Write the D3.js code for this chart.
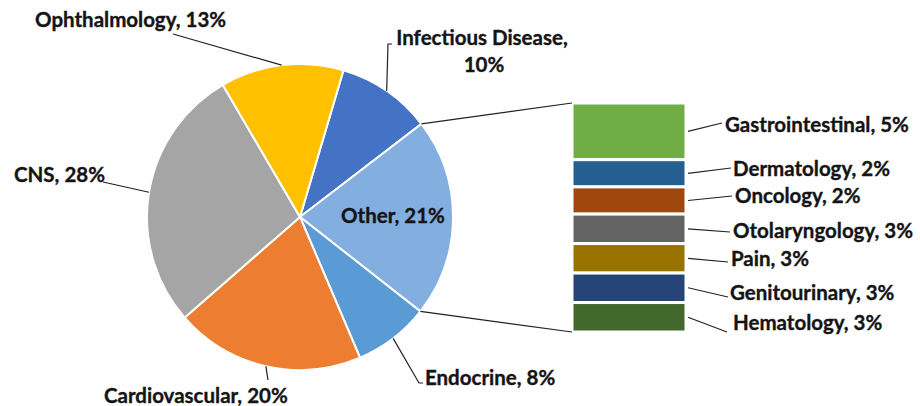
<!DOCTYPE html>
<html>
<head>
<meta charset="utf-8">
<script src="https://cdn.jsdelivr.net/npm/d3@7"></script>
<style>
  body { margin: 0; background: #fff; }
  text { font-family: "Lato", "Open Sans", sans-serif; font-weight: bold; fill: #141414;
         stroke: #141414; stroke-width: 0.35px; font-size: 20.5px; }
</style>
</head>
<body>
<script>
// pie data
const pieNames = ["Infectious Disease", "Other", "Endocrine", "Cardiovascular", "CNS", "Ophthalmology"];
const pieValues = [10, 21, 8, 20, 28, 13];
const pieColors = ["#4472c4", "#82aee0", "#5b9bd5", "#ed7d31", "#a5a5a5", "#ffc000"];

// breakdown of "Other" (bar)
const barNames = ["Gastrointestinal", "Dermatology", "Oncology", "Otolaryngology", "Pain", "Genitourinary", "Hematology"];
const barValues = [5.0, 2.4, 2.4, 2.6, 2.6, 2.6, 2.6];
const barColors = ["#70ad47", "#255e91", "#9e480e", "#636363", "#997300", "#264478", "#43682b"];

const width = 920, height = 406;
const cx = 300, cy = 217, r = 153;
const startDeg = 16.5; // first slice starts a bit past 12 o'clock

const svg = d3.select("body").append("svg")
    .attr("width", width)
    .attr("height", height);

const pieData = pieNames.map((n, i) => ({ name: n, value: pieValues[i] }));
const pie = d3.pie().sort(null).value(d => d.value)
    .startAngle(startDeg * Math.PI / 180)
    .endAngle(startDeg * Math.PI / 180 + 2 * Math.PI);
const arcs = pie(pieData);
const arc = d3.arc().innerRadius(0).outerRadius(r);

const g = svg.append("g").attr("transform", `translate(${cx},${cy})`);
g.selectAll("path")
    .data(arcs)
    .enter()
    .append("path")
    .attr("d", arc)
    .attr("fill", (d, i) => pieColors[i])
    .attr("stroke", "#fff")
    .attr("stroke-width", 2);

// point on the pie edge at a given angle
const edge = (a, rr = r) => [cx + rr * Math.sin(a), cy - rr * Math.cos(a)];

// bar for "Other"
const barX = 572, barW = 114, barTop = 103, barBottom = 332;
const total = d3.sum(barValues);
const cum = barValues.map((v, i) => d3.sum(barValues.slice(0, i)));
const yBar = d3.scaleLinear().domain([0, total]).range([barTop, barBottom]);

svg.selectAll("rect.seg")
    .data(barValues)
    .enter()
    .append("rect")
    .attr("class", "seg")
    .attr("x", barX)
    .attr("y", (d, i) => yBar(cum[i]))
    .attr("width", barW)
    .attr("height", d => yBar(d) - yBar(0))
    .attr("fill", (d, i) => barColors[i])
    .attr("stroke", "#fff")
    .attr("stroke-width", 3);

// connector lines from "Other" slice to the bar
const other = arcs[1];
const line = (pts) => svg.append("path")
    .attr("d", d3.line()(pts))
    .attr("fill", "none")
    .attr("stroke", "#222")
    .attr("stroke-width", 1.2);
line([edge(other.startAngle), [barX, barTop]]);
line([edge(other.endAngle), [barX, barBottom]]);

// pie labels: text position + leader end (layout only)
const pct = v => Math.round(v) + "%";
const mid = d => (d.startAngle + d.endAngle) / 2;

// Infectious Disease (two lines)
line([edge(mid(arcs[0])), [388, 44], [392, 44]]);
svg.append("text").attr("x", 482).attr("y", 45).attr("text-anchor", "middle")
    .text(pieNames[0] + ",");
svg.append("text").attr("x", 484).attr("y", 72).attr("text-anchor", "middle")
    .text(pct(pieValues[0]));

// Other (inside)
svg.append("text").attr("x", 393).attr("y", 223).attr("text-anchor", "middle")
    .text(pieNames[1] + ", " + pct(pieValues[1]));

// Endocrine
line([edge(mid(arcs[2])), [419, 383], [423, 383]]);
svg.append("text").attr("x", 425).attr("y", 385)
    .text(pieNames[2] + ", " + pct(pieValues[2]));

// Cardiovascular
line([edge(mid(arcs[3])), [268, 380]]);
svg.append("text").attr("x", 104).attr("y", 403)
    .text(pieNames[3] + ", " + pct(pieValues[3]));

// CNS
line([edge(mid(arcs[4])), [103, 182]]);
svg.append("text").attr("x", 14).attr("y", 182)
    .text(pieNames[4] + ", " + pct(pieValues[4]));

// Ophthalmology
line([edge(mid(arcs[5])), [173, 34]]);
svg.append("text").attr("x", 35).attr("y", 27)
    .text(pieNames[5] + ", " + pct(pieValues[5]));

// bar labels
const barLabelX = [725, 733, 735, 733, 731, 730, 733];
const barLabelY = [132, 176, 203, 238, 266, 300, 330];
const barLeadEnd = [[722, 123], [731, 168], [732, 196], [730, 232], [728, 262], [728, 297], [727, 332]];

barValues.forEach((v, i) => {
    const ym = yBar(cum[i] + v / 2);
    line([[barX + barW + 2, ym], barLeadEnd[i]]);
    svg.append("text")
        .attr("x", barLabelX[i])
        .attr("y", barLabelY[i])
        .text(barNames[i] + ", " + pct(v));
});
</script>
</body>
</html>
